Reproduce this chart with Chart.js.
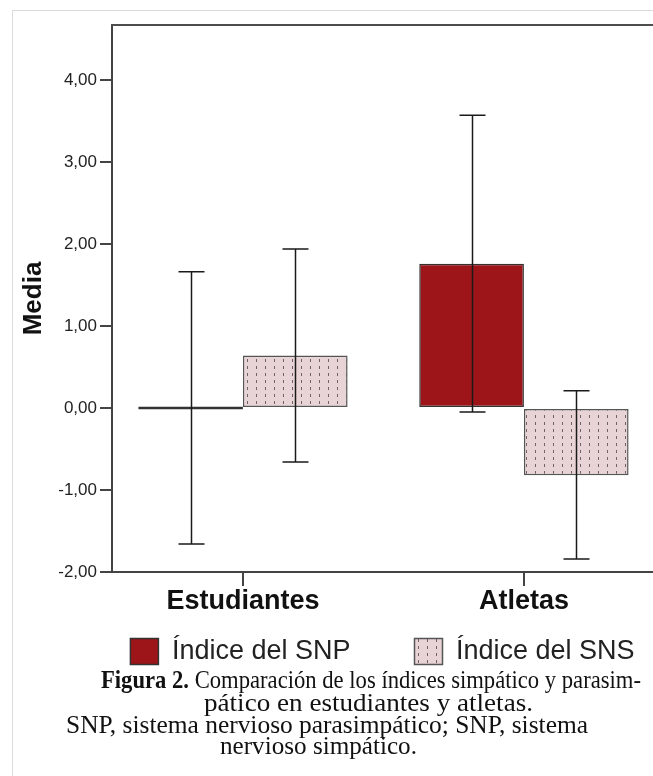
<!DOCTYPE html>
<html><head><meta charset="utf-8">
<script src="https://cdn.jsdelivr.net/npm/chart.js@4.4.1/dist/chart.umd.min.js"></script>
<style>
html,body{margin:0;padding:0;background:#fff;width:653px;height:776px;overflow:hidden;position:relative;}
#frame{position:absolute;left:12px;top:10px;width:700px;height:800px;border:1px solid #dcdcdc;box-sizing:border-box;}
#wrap{position:absolute;left:0;top:0;width:765px;height:675px;}
.cap{position:absolute;white-space:nowrap;font-family:'Liberation Serif','Times New Roman',serif;font-size:25px;line-height:25px;color:#111;transform-origin:0 0;}
</style></head><body>
<div id="frame"></div>
<div id="wrap"><canvas id="c" width="765" height="675"></canvas></div>
<div class="cap" data-w="540" style="left:101px;top:667px"><b>Figura 2.</b> Comparación de los índices simpático y parasim-</div>
<div class="cap" data-w="329" style="left:204px;top:690px">pático en estudiantes y atletas.</div>
<div class="cap" data-w="522" style="left:66px;top:712px">SNP, sistema nervioso parasimpático; SNP, sistema</div>
<div class="cap" data-w="197" style="left:220px;top:733px">nervioso simpático.</div>
<script>
const categories = ['Estudiantes', 'Atletas'];
const seriesNames = ['Índice del SNP', 'Índice del SNS'];
const snpMean = [0.00, 1.76];
const snsMean = [0.64, -0.82];
const snpLow  = [-1.66, -0.05];
const snpHigh = [1.66, 3.57];
const snsLow  = [-0.66, -1.84];
const snsHigh = [1.94, 0.21];
const yTicks  = [-2, -1, 0, 1, 2, 3, 4];

document.querySelectorAll('.cap').forEach(el => {
  const w = el.getBoundingClientRect().width;
  const t = parseFloat(el.dataset.w);
  el.style.transform = 'scaleX(' + (t / w) + ')';
});

const canvas = document.getElementById('c');
const ctx0 = canvas.getContext('2d');
function makePattern() {
  const p = document.createElement('canvas');
  p.width = 9; p.height = 7;
  const g = p.getContext('2d');
  g.fillStyle = '#E8D3D6'; g.fillRect(0, 0, 9, 7);
  g.fillStyle = '#6e6466'; g.fillRect(4, 2, 1, 3);
  return ctx0.createPattern(p, 'repeat');
}
const pattern = makePattern();

const errorBars = {
  id: 'errorBars',
  afterDatasetsDraw(chart) {
    const {ctx, scales: {y}} = chart;
    const lows = [snpLow, snsLow], highs = [snpHigh, snsHigh];
    ctx.save();
    ctx.strokeStyle = '#1a1a1a';
    ctx.lineWidth = 1.5;
    chart.data.datasets.forEach((ds, i) => {
      chart.getDatasetMeta(i).data.forEach((el, j) => {
        const x = Math.round(el.x) + 0.5;
        const yl = y.getPixelForValue(lows[i][j]);
        const yh = y.getPixelForValue(highs[i][j]);
        ctx.beginPath();
        ctx.moveTo(x, yl); ctx.lineTo(x, yh);
        ctx.moveTo(x - 13, yl); ctx.lineTo(x + 13, yl);
        ctx.moveTo(x - 13, yh); ctx.lineTo(x + 13, yh);
        ctx.stroke();
      });
    });
    ctx.restore();
  }
};
const topBorder = {
  id: 'topBorder',
  afterDraw(chart) {
    const {ctx, chartArea: a} = chart;
    ctx.save();
    ctx.strokeStyle = '#4d4d4d';
    ctx.lineWidth = 2;
    ctx.beginPath();
    ctx.moveTo(a.left - 1, a.top);
    ctx.lineTo(a.right, a.top);
    ctx.stroke();
    ctx.restore();
  }
};

Chart.defaults.font.family = "'Liberation Sans', Arial, sans-serif";

new Chart(canvas, {
  type: 'bar',
  data: {
    datasets: [
      {
        label: seriesNames[0],
        data: categories.map((c, i) => ({x: i, y: snpMean[i]})),
        backgroundColor: '#9E1519',
        borderColor: '#333333',
        borderWidth: 1.5,
        borderSkipped: false,
        minBarLength: 3
      },
      {
        label: seriesNames[1],
        data: categories.map((c, i) => ({x: i, y: snsMean[i]})),
        backgroundColor: pattern,
        borderColor: '#555555',
        borderWidth: 1.5,
        borderSkipped: false
      }
    ]
  },
  options: {
    responsive: false,
    animation: false,
    layout: {padding: {top: 25, left: 0, right: 0, bottom: 0}},
    datasets: {bar: {categoryPercentage: 0.745, barPercentage: 1.0}},
    plugins: {
      tooltip: {enabled: false},
      legend: {
        position: 'bottom',
        fullSize: true,
        labels: {
          boxWidth: 28, boxHeight: 26, padding: 64,
          color: '#222',
          font: {size: 27}
        }
      }
    },
    scales: {
      x: {
        type: 'linear',
        min: -0.466, max: 1.858,
        offset: false,
        afterBuildTicks: s => { s.ticks = categories.map((c, i) => ({value: i})); },
        afterFit: s => { s.height = 2; },
        ticks: {
          callback: v => categories[v] ?? '',
          font: {size: 27, weight: 'bold'},
          color: '#111',
          mirror: true,
          padding: -46,
          maxRotation: 0,
          autoSkip: false
        },
        grid: {drawOnChartArea: false, drawTicks: true, offset: false, tickLength: 14, color: '#444', lineWidth: 2},
        border: {display: true, color: '#444', width: 2}
      },
      y: {
        min: -2, max: 4.67,
        afterBuildTicks: s => { s.ticks = yTicks.map(v => ({value: v})); },
        afterFit: s => { s.width = 112; },
        ticks: {
          callback: v => Number(v).toFixed(2).replace('.', ','),
          font: {size: 17},
          color: '#222',
          padding: 3
        },
        grid: {drawOnChartArea: false, drawTicks: true, tickLength: 12, color: '#444', lineWidth: 2},
        border: {display: true, color: '#444', width: 2},
        title: {
          display: true, text: 'Media',
          font: {size: 26, weight: 'bold'},
          color: '#111',
          padding: {top: 18, bottom: 0}
        }
      }
    }
  },
  plugins: [errorBars, topBorder]
});
</script>
</body></html>
